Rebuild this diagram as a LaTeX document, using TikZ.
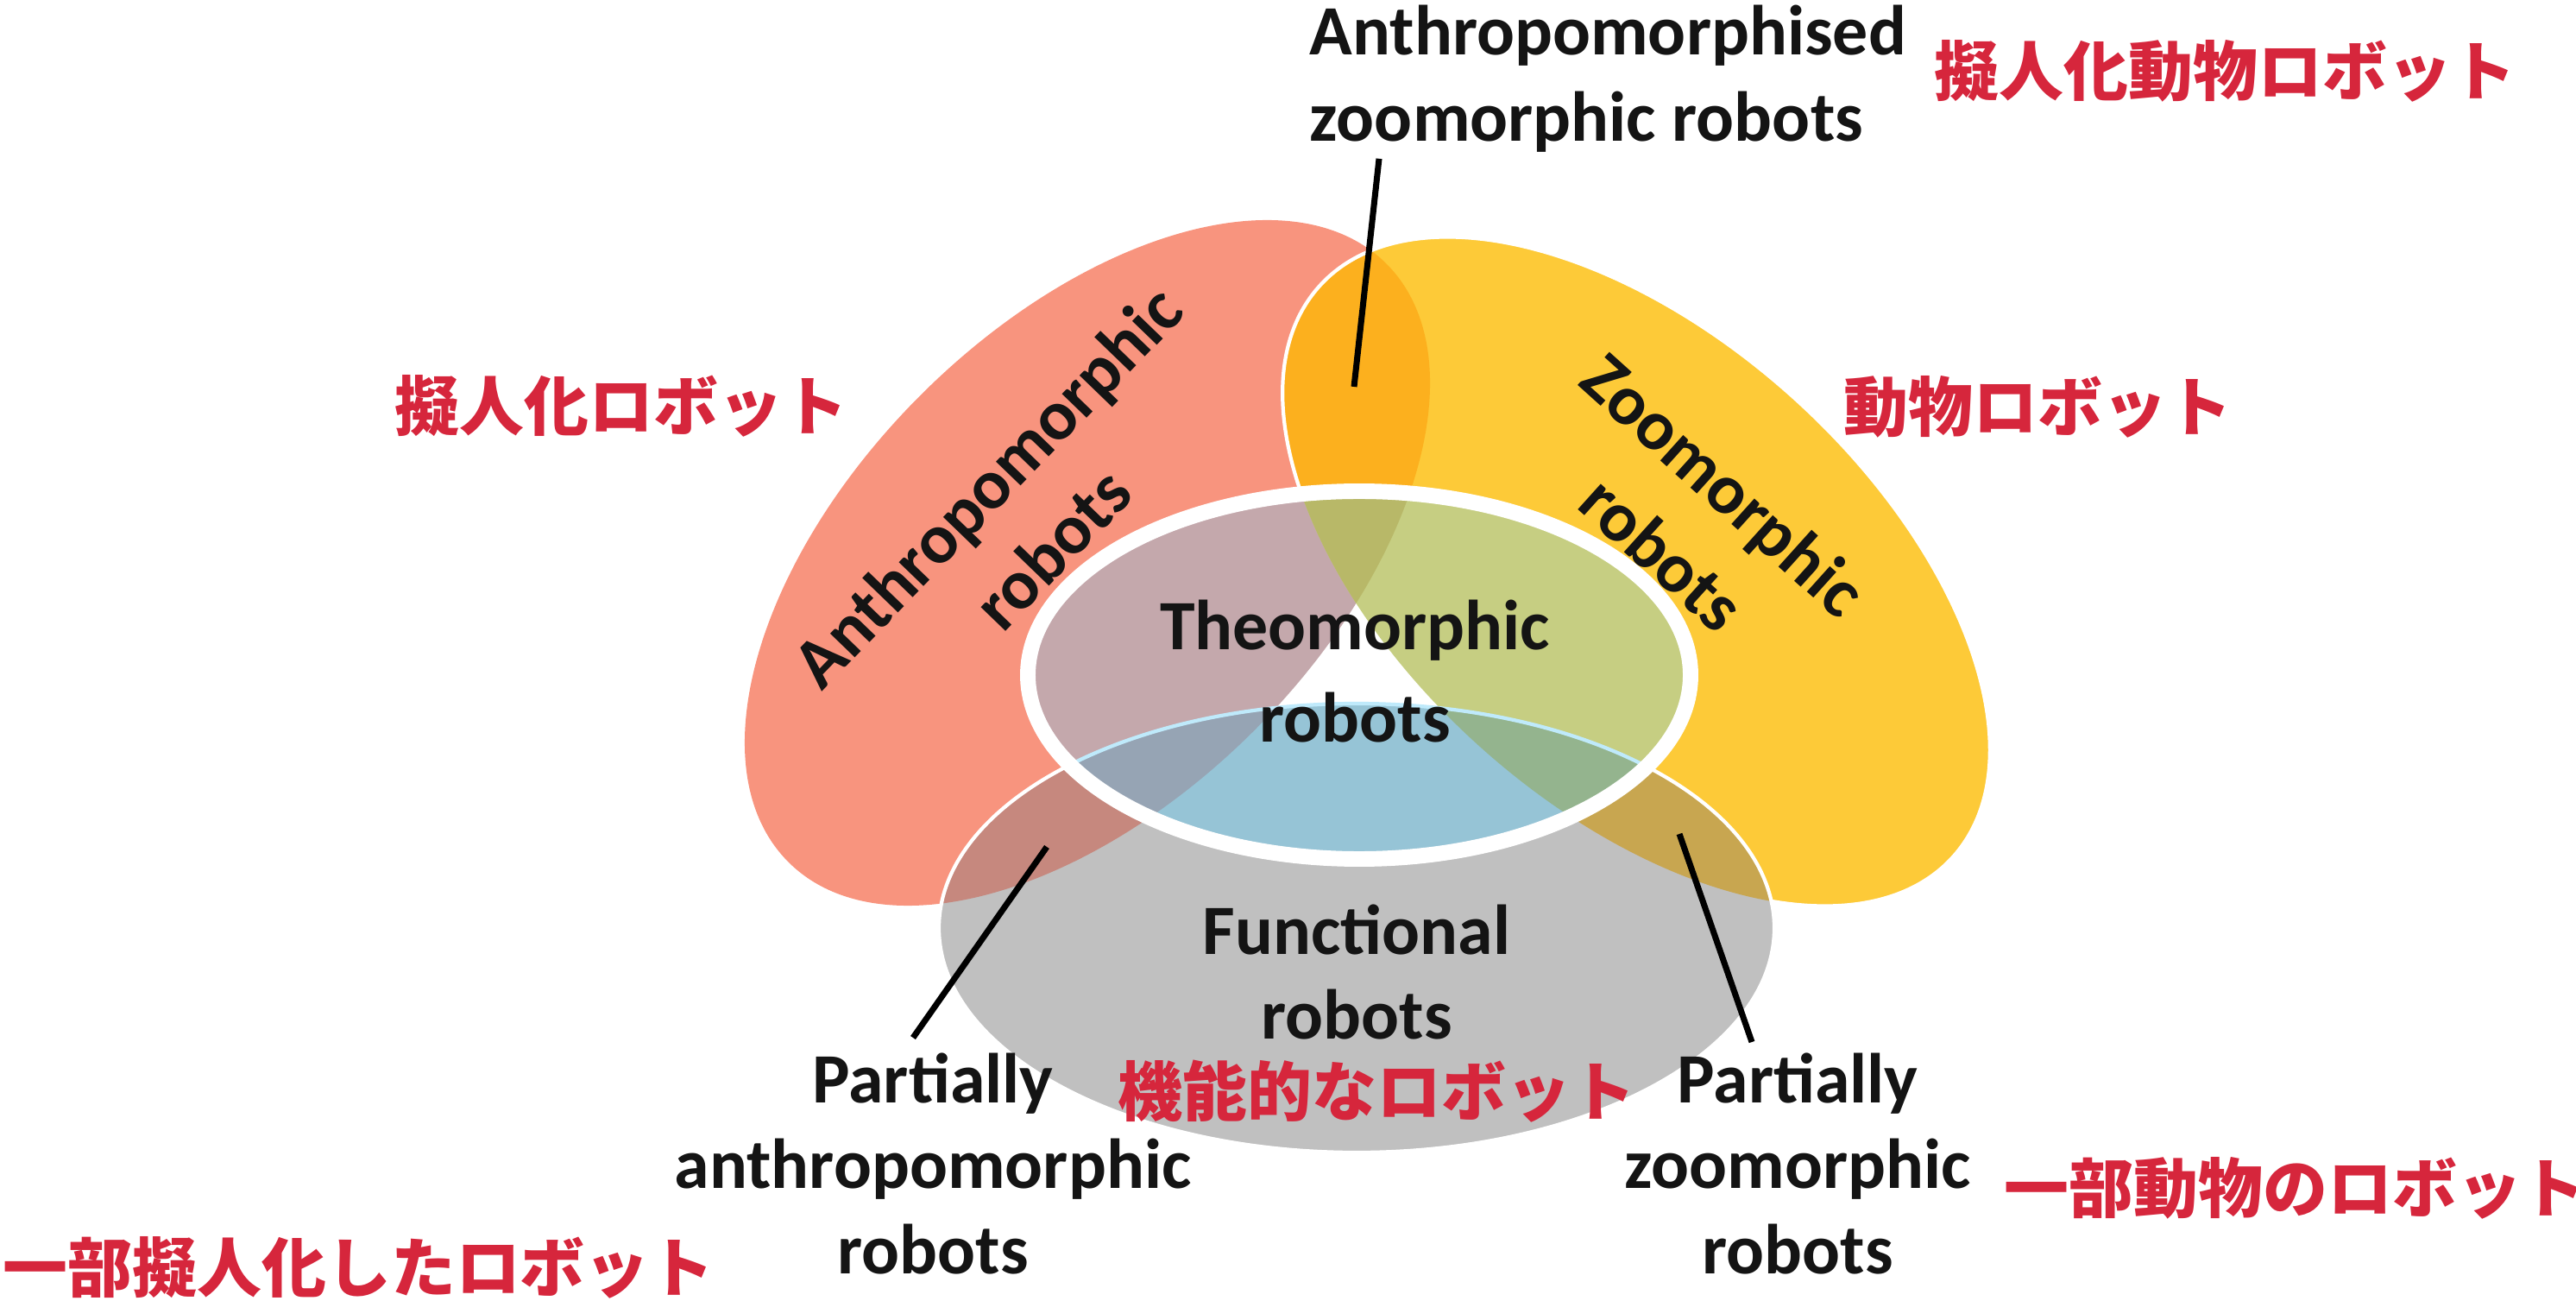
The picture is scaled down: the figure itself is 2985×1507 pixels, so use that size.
\documentclass[tikz,border=0pt]{standalone}
\usepackage{fontspec}
\setmainfont{Carlito}
\newfontfamily\cjk{Noto Sans CJK JP}
\definecolor{salmon}{RGB}{248,148,126}
\definecolor{gold}{RGB}{253,202,56}
\definecolor{orangeov}{RGB}{252,176,30}
\definecolor{grayf}{RGB}{192,192,192}
\definecolor{rosegray}{RGB}{198,136,126}
\definecolor{khaki}{RGB}{200,166,80}
\definecolor{mauve}{RGB}{196,168,172}
\definecolor{olivef}{RGB}{184,184,104}
\definecolor{lgreen}{RGB}{198,206,130}
\definecolor{lblue}{RGB}{150,196,214}
\definecolor{bluegray}{RGB}{150,164,180}
\definecolor{greengray}{RGB}{148,180,142}
\definecolor{jred}{RGB}{214,38,60}
\definecolor{inkc}{RGB}{20,20,20}
\begin{document}
\begin{tikzpicture}[x=0.01cm,y=-0.01cm,
  lbl/.style={font=\fontsize{23.3}{28.4}\selectfont\bfseries, text=inkc, inner sep=0pt, align=center},
  jp/.style={font=\cjk\bfseries\fontsize{21.3}{25}\selectfont, text=jred, inner sep=0pt, anchor=west},
  leader/.style={line width=2pt, black}]
\useasboundingbox (0,0) rectangle (2985,1507);
\def\redP{(1260,652) ellipse [x radius=490, y radius=274, rotate=45]}
\def\yelP{(1896,662) ellipse [x radius=494, y radius=272, rotate=-42]}
\def\grayP{(1572,1075) ellipse [x radius=484, y radius=260]}
\def\theoP{(1575,782) ellipse [x radius=384, y radius=213]}
% base shapes
\fill[salmon] \redP;
\fill[gold] \yelP;
\begin{scope}\clip \redP; \fill[orangeov] \yelP; \end{scope}
\draw[white, line width=1.2pt] \yelP;
\fill[grayf] \grayP;
\begin{scope}\clip \grayP; \fill[rosegray] \redP; \fill[khaki] \yelP; \end{scope}
\draw[white, line width=1.2pt] \grayP;
% theomorphic ellipse
\fill[white] \theoP;
\begin{scope}\clip \theoP;
  \fill[mauve] \redP;
  \fill[lgreen] \yelP;
  \fill[lblue] \grayP;
  \begin{scope}\clip \redP; \fill[olivef] \yelP; \fill[bluegray] \grayP; \end{scope}
  \begin{scope}\clip \yelP; \fill[greengray] \grayP; \end{scope}
  \draw[white!75!cyan, line width=1.2pt] \grayP;
\end{scope}
\draw[white, line width=5.1pt] \theoP;
% English labels
\node[lbl, anchor=west, align=left] (tlab) at (1517,91) {Anthropomorphised\\zoomorphic robots};
\node[lbl, font=\fontsize{23.3}{30.4}\selectfont\bfseries] (theo) at (1570,778) {Theomorphic\\robots};
\node[lbl, font=\fontsize{23.3}{27.6}\selectfont\bfseries] (func) at (1572,1126) {Functional\\robots};
\node[lbl, font=\fontsize{23.3}{28.2}\selectfont\bfseries] (plA) at (1081,1348) {Partially\\anthropomorphic\\robots};
\node[lbl, font=\fontsize{23.3}{28.2}\selectfont\bfseries] (plZ) at (2083,1348) {Partially\\zoomorphic\\robots};
\node[lbl, font=\fontsize{23.3}{29.6}\selectfont\bfseries, rotate=46] (anth) at (1181,599) {Anthropomorphic\\robots};
\node[lbl, font=\fontsize{23.3}{30.4}\selectfont\bfseries, rotate=-42] (zoo) at (1962,601) {Zoomorphic\\robots};
% Japanese labels
\node[jp] (j1) at (2241,82) {擬人化動物ロボット};
\node[jp] (j2) at (457,470) {擬人化ロボット};
\node[jp] (j3) at (2136,471) {動物ロボット};
\node[jp] (j4) at (1295,1264) {機能的なロボット};
\node[jp] (j5) at (2322,1376) {一部動物のロボット};
\node[jp] (j6) at (3,1468) {一部擬人化したロボット};
% leader lines
\coordinate (pAZ) at (1569,448);
\coordinate (pPA) at (1213,981);
\coordinate (pPZ) at (1946,966);
\draw[leader] (tlab.south west) ++(81,7) -- (pAZ);
\draw[leader] (plA.north) ++(-23,-17) -- (pPA);
\draw[leader] (plZ.north) ++(-53,-12) -- (pPZ);
\end{tikzpicture}
\end{document}
